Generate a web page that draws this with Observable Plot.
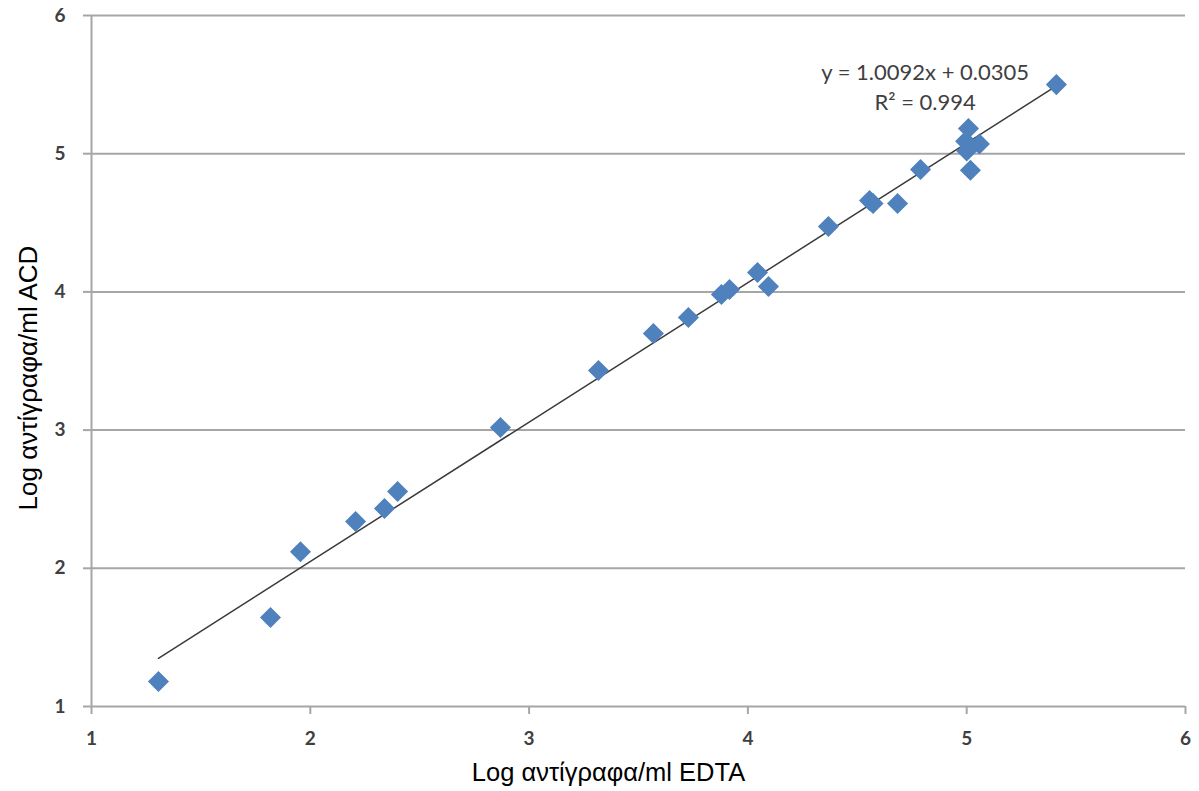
<!DOCTYPE html>
<html>
<head>
<meta charset="utf-8">
<script src="https://cdn.jsdelivr.net/npm/d3@7"></script>
<script src="https://cdn.jsdelivr.net/npm/@observablehq/plot@0.6"></script>
<style>
  body { margin: 0; background: #fff; }
  #chart svg { display: block; }
</style>
</head>
<body>
<div id="chart"></div>
<script>
const edta = [1.306, 1.818, 1.955, 2.207, 2.339, 2.399, 2.869, 3.317, 3.568, 3.728, 3.879, 3.916, 4.044, 4.094, 4.368, 4.556, 4.572, 4.684, 4.789, 5.008, 4.995, 5.058, 5.000, 5.017, 5.410];
const acd  = [1.181, 1.644, 2.120, 2.339, 2.433, 2.556, 3.019, 3.431, 3.699, 3.815, 3.981, 4.017, 4.140, 4.039, 4.473, 4.661, 4.640, 4.640, 4.886, 5.182, 5.090, 5.070, 5.020, 4.880, 5.500];
const trendSlope = 1.0092;
const trendIntercept = 0.0305;
const trendX = [1.306, 5.41];
const ticks = [1, 2, 3, 4, 5, 6];
const xTitle = "Log αντίγραφα/ml EDTA";
const yTitle = "Log αντίγραφα/ml ACD";
const eqLabels = ["y = 1.0092x + 0.0305", "R² = 0.994"];
const eqX = [4.81, 4.81];
const eqY = [5.585, 5.37];

const points = edta.map((x, i) => ({x, y: acd[i]}));
const trend = trendX.map(x => ({x, y: trendSlope * x + trendIntercept}));
const eq = eqLabels.map((t, i) => ({t, x: eqX[i], y: eqY[i]}));

const titleFont = "'Liberation Sans', Arial, sans-serif";

const chart = Plot.plot({
  width: 1199,
  height: 791,
  marginLeft: 91,
  marginRight: 14,
  marginTop: 15,
  marginBottom: 85,
  style: {fontFamily: "Lato, 'Open Sans', sans-serif", background: "#fff"},
  x: {domain: [1, 6]},
  y: {domain: [1, 6]},
  marks: [
    Plot.gridY(ticks, {stroke: "#a6a6a6", strokeOpacity: 1, strokeWidth: 2}),
    Plot.ruleX([1], {stroke: "#a6a6a6", strokeWidth: 2}),
    Plot.axisX(ticks, {
      tickSize: 8, tickPadding: 17, stroke: "#a6a6a6", strokeWidth: 2,
      fill: "#404040", fontSize: 19, fontWeight: "bold", tickFormat: "d",
      label: null
    }),
    Plot.axisY(ticks, {
      tickSize: 8, tickPadding: 18, stroke: "#a6a6a6", strokeWidth: 2,
      fill: "#404040", fontSize: 19, fontWeight: "bold", tickFormat: "d",
      label: null
    }),
    Plot.text([xTitle], {
      text: d => d, frameAnchor: "bottom", textAnchor: "middle", dx: -30, dy: 74,
      fontSize: 25.5, fill: "#000", fontFamily: titleFont
    }),
    Plot.text([yTitle], {
      text: d => d, frameAnchor: "left", textAnchor: "middle", lineAnchor: "middle",
      rotate: -90, dx: -63, dy: 17,
      fontSize: 26, fill: "#000", fontFamily: titleFont
    }),
    Plot.line(trend, {x: "x", y: "y", stroke: "#3a3a3a", strokeWidth: 1.5}),
    Plot.dot(points, {x: "x", y: "y", symbol: "diamond2", r: 9.5, fill: "#4f81bd", stroke: "none"}),
    Plot.text(eq, {x: "x", y: "y", text: "t", fontSize: 22, fill: "#404040", fontFamily: "Lato, sans-serif"})
  ]
});

document.getElementById("chart").appendChild(chart);
</script>
</body>
</html>
